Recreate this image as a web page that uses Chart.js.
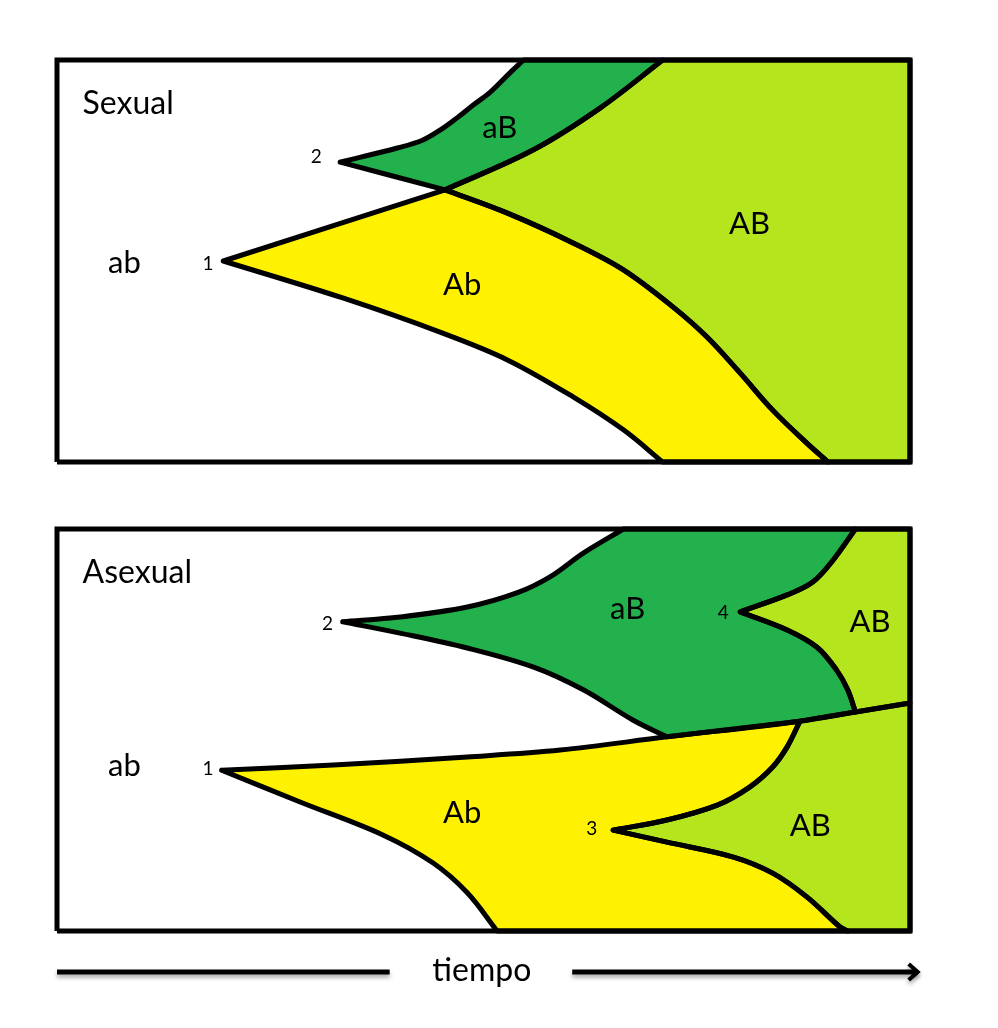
<!DOCTYPE html>
<html>
<head>
<meta charset="utf-8">
<script src="https://cdn.jsdelivr.net/npm/chart.js@4"></script>
<style>
  body { margin: 0; background: #fff; }
  canvas { position: absolute; left: 0; }
</style>
</head>
<body>
<canvas id="sexualChart" width="998" height="500" style="top:0px"></canvas>
<canvas id="asexualChart" width="998" height="528" style="top:500px"></canvas>
<script>
// boundaries of each lineage, as [time, frequency %]
// sexual population
const sexFrom1Up = [[19.5, 50.0], [45.5, 67.7]];
const sexFrom1Down = [[19.5, 50.0], [33.5, 40.8], [44.9, 32.3], [52.8, 25.4], [60.5, 16.2], [66.4, 8.0], [71.0, 0]];
const sexFrom2Up = [[33.2, 74.6], [39.9, 78.1], [42.9, 80.1], [45.3, 83.1], [46.9, 85.6], [48.8, 88.8], [50.8, 92.0], [53.1, 96.8], [54.7, 100]];
const sexFrom2Down = [[33.2, 74.6], [45.5, 67.7]];
const sexCrossUp = [[45.5, 67.7], [55.8, 77.6], [63.7, 88.1], [71.0, 100]];
const sexCrossDown = [[45.5, 67.7], [52.8, 61.9], [60.5, 54.5], [66.4, 47.8], [72.2, 38.6], [76.2, 31.1], [80.1, 22.1], [83.9, 12.9], [87.9, 4.7], [90.4, 0]];

// asexual population
const asxFrom1Up = [[19.3, 40.0], [32.4, 41.3], [48.1, 43.3], [59.0, 45.0], [71.5, 48.3], [87.1, 52.2], [93.6, 54.5], [100, 56.7]];
const asxFrom1Down = [[19.3, 40.0], [28.5, 32.1], [38.2, 23.9], [44.1, 16.9], [48.1, 9.5], [51.6, 0]];
const asxFrom2Up = [[33.5, 76.9], [40.2, 78.1], [48.1, 80.6], [53.9, 84.1], [57.8, 88.1], [61.7, 94.0], [66.4, 100]];
const asxFrom2Down = [[33.5, 76.9], [40.2, 74.1], [48.1, 70.4], [55.8, 65.7], [61.7, 60.0], [67.5, 52.5], [71.5, 48.3]];
const asxFrom3Up = [[65.2, 25.1], [71.5, 27.6], [77.4, 31.3], [81.2, 35.8], [83.9, 40.8], [85.6, 45.8], [87.1, 52.2]];
const asxFrom3Down = [[65.2, 25.1], [71.5, 22.1], [79.3, 18.4], [83.9, 14.4], [87.9, 8.5], [91.8, 1.0], [92.7, 0]];
const asxFrom4Up = [[80.1, 79.4], [85.6, 83.6], [88.6, 86.8], [91.0, 92.3], [93.6, 100]];
const asxFrom4Down = [[80.1, 79.4], [85.6, 74.9], [89.1, 70.6], [91.4, 64.9], [92.7, 60.0], [93.6, 54.5]];

const panelFrame = [[0, 0], [100, 0], [100, 100], [0, 100], [0, 0]];

const colors = { Ab: '#fff200', aB: '#22b14c', AB: '#b5e61d' };

// labels: text, time, frequency, size
const sexLabels = [
  ['Sexual', 3.0, 89.1, 32, 'left'],
  ['ab', 7.9, 49.5, 31],
  ['1', 17.7, 49.3, 19],
  ['2', 30.4, 75.9, 19],
  ['aB', 51.9, 83.1, 31],
  ['AB', 81.2, 59.2, 31],
  ['Ab', 47.5, 44.0, 31],
];
const asxLabels = [
  ['Asexual', 3.0, 89.1, 32, 'left'],
  ['ab', 7.9, 41.0, 31],
  ['1', 17.7, 40.3, 19],
  ['2', 31.7, 76.4, 19],
  ['aB', 66.9, 80.1, 31],
  ['4', 78.1, 79.1, 19],
  ['AB', 95.3, 76.9, 31],
  ['Ab', 47.5, 29.4, 31],
  ['3', 62.7, 25.4, 19],
  ['AB', 88.3, 26.1, 31],
];

const rev = (a) => a.slice().reverse();

// join boundary pieces end to end; a point repeated at a join keeps the corner sharp,
// two pieces that do not touch are joined by a straight run along the frame
function chain(...pieces) {
  const out = [];
  pieces.forEach((p) => {
    if (out.length) {
      const last = out[out.length - 1];
      if (last[0] !== p[0][0] || last[1] !== p[0][1]) {
        out.push(last, p[0]);
      }
    }
    out.push(...p);
  });
  return out;
}

function region(points, color) {
  return {
    data: points.map(([x, y]) => ({ x, y })),
    backgroundColor: color,
    borderColor: '#000',
    borderWidth: 5,
    borderJoinStyle: 'round',
    borderCapStyle: 'round',
    fill: 'shape',
    showLine: true,
    pointRadius: 0,
    tension: 0.35,
    clip: false,
    order: 1,
  };
}

function frame() {
  return {
    data: panelFrame.map(([x, y]) => ({ x, y })),
    borderColor: '#000',
    borderWidth: 5,
    borderJoinStyle: 'miter',
    fill: false,
    showLine: true,
    pointRadius: 0,
    tension: 0,
    clip: false,
    order: 0,
  };
}

const labelPlugin = {
  id: 'labels',
  afterDatasetsDraw(chart, args, opts) {
    const ctx = chart.ctx;
    const xs = chart.scales.x;
    const ys = chart.scales.y;
    ctx.save();
    ctx.fillStyle = '#000';
    ctx.textBaseline = 'middle';
    opts.items.forEach(([text, x, y, size, align]) => {
      ctx.font = size + 'px Lato';
      ctx.textAlign = align || 'center';
      ctx.fillText(text, xs.getPixelForValue(x), ys.getPixelForValue(y));
    });
    ctx.restore();
  },
};

// time arrow under the asexual panel
const arrowPlugin = {
  id: 'timeArrow',
  afterDraw(chart) {
    const ctx = chart.ctx;
    const xs = chart.scales.x;
    const y = chart.chartArea.bottom + 41;
    const x0 = xs.getPixelForValue(0);
    const x1 = xs.getPixelForValue(39.0);
    const x2 = xs.getPixelForValue(60.4);
    const x3 = xs.getPixelForValue(100.9);
    ctx.save();
    ctx.strokeStyle = '#000';
    ctx.lineWidth = 5;
    ctx.shadowColor = 'rgba(0,0,0,0.35)';
    ctx.shadowBlur = 4;
    ctx.shadowOffsetY = 3;
    ctx.beginPath();
    ctx.moveTo(x0, y);
    ctx.lineTo(x1, y);
    ctx.moveTo(x2, y);
    ctx.lineTo(x3, y);
    ctx.stroke();
    ctx.lineWidth = 4;
    ctx.lineJoin = 'miter';
    ctx.beginPath();
    ctx.moveTo(x3 - 9, y - 8);
    ctx.lineTo(x3, y);
    ctx.lineTo(x3 - 9, y + 8);
    ctx.stroke();
    ctx.shadowColor = 'transparent';
    ctx.fillStyle = '#000';
    ctx.font = '32px Lato';
    ctx.textAlign = 'center';
    ctx.textBaseline = 'middle';
    ctx.fillText('tiempo', xs.getPixelForValue(49.8), y - 1);
    ctx.restore();
  },
};

function panelOptions(padding, labels) {
  return {
    responsive: false,
    animation: false,
    layout: { padding },
    scales: {
      x: { type: 'linear', min: 0, max: 100, display: false },
      y: { type: 'linear', min: 0, max: 100, display: false },
    },
    plugins: {
      legend: { display: false },
      tooltip: { enabled: false },
      filler: { drawTime: 'beforeDatasetsDraw' },
      labels: { items: labels },
    },
  };
}

new Chart(document.getElementById('sexualChart'), {
  type: 'scatter',
  data: {
    datasets: [
      frame(),
      region(chain(sexFrom1Up, sexCrossDown, rev(sexFrom1Down)), colors.Ab),
      region(chain(sexFrom2Up, rev(sexCrossUp), rev(sexFrom2Down)), colors.aB),
      region(chain(sexCrossUp, [[100, 100], [100, 0]], rev(sexCrossDown)), colors.AB),
    ],
  },
  options: panelOptions({ left: 57, right: 88, top: 60, bottom: 38 }, sexLabels),
  plugins: [labelPlugin],
});

new Chart(document.getElementById('asexualChart'), {
  type: 'scatter',
  data: {
    datasets: [
      frame(),
      region(chain(asxFrom1Up.slice(0, 6), rev(asxFrom3Up), asxFrom3Down, rev(asxFrom1Down)), colors.Ab),
      region(chain(asxFrom2Up, rev(asxFrom4Up), asxFrom4Down, rev(asxFrom1Up.slice(4, 7)), rev(asxFrom2Down)), colors.aB),
      region(chain(asxFrom4Up, [[100, 100]], rev(asxFrom1Up.slice(6)), rev(asxFrom4Down)), colors.AB),
      region(chain(asxFrom3Up, asxFrom1Up.slice(5), [[100, 0]], rev(asxFrom3Down)), colors.AB),
    ],
  },
  options: panelOptions({ left: 57, right: 88, top: 29, bottom: 97 }, asxLabels),
  plugins: [labelPlugin, arrowPlugin],
});
</script>
</body>
</html>
